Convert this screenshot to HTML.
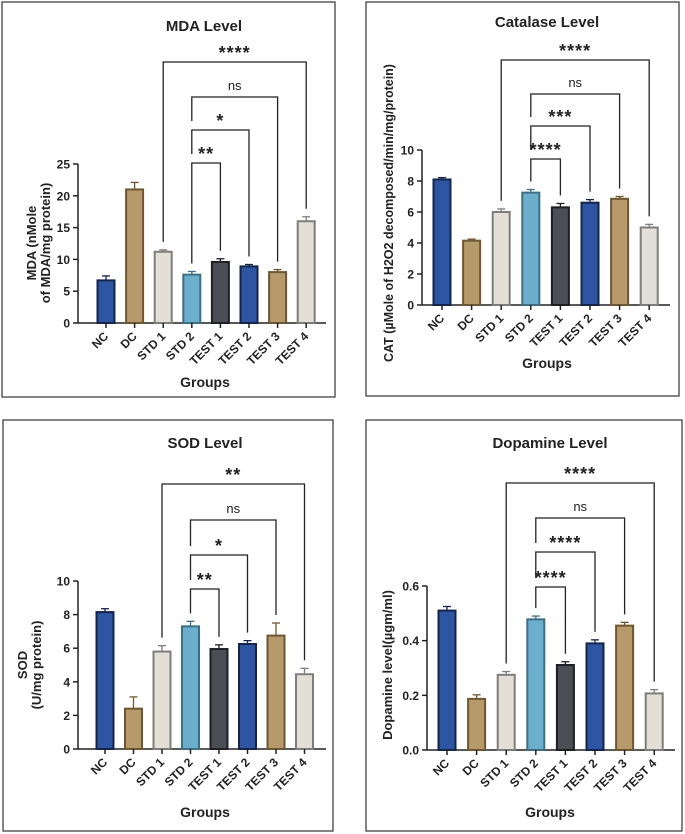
<!DOCTYPE html>
<html><head><meta charset="utf-8"><style>
html,body{margin:0;padding:0;background:#fff;}
svg{display:block;font-family:"Liberation Sans",Arial,sans-serif;}
</style></head><body>
<svg id="chart" width="685" height="834" viewBox="0 0 685 834" xmlns="http://www.w3.org/2000/svg"></svg>
<script>
const categories = ["NC","DC","STD 1","STD 2","TEST 1","TEST 2","TEST 3","TEST 4"];
const mdaValues = [6.7,21.0,11.2,7.6,9.6,8.9,8.0,16.0];
const mdaErrors = [0.7,1.1,0.3,0.5,0.5,0.3,0.4,0.7];
const mdaTicks = [0,5,10,15,20,25];
const catValues = [8.1,4.15,6.0,7.25,6.3,6.6,6.85,5.0];
const catErrors = [0.12,0.1,0.2,0.2,0.25,0.2,0.15,0.2];
const catTicks = [0,2,4,6,8,10];
const sodValues = [8.15,2.4,5.8,7.3,5.95,6.25,6.75,4.45];
const sodErrors = [0.2,0.7,0.35,0.3,0.25,0.2,0.75,0.35];
const sodTicks = [0,2,4,6,8,10];
const daValues = [0.51,0.187,0.275,0.478,0.311,0.39,0.455,0.207];
const daErrors = [0.015,0.015,0.012,0.012,0.012,0.013,0.012,0.014];
const daTicks = [0.0,0.2,0.4,0.6];
const daTickLabels = ["0.0","0.2","0.4","0.6"];
const mdaSig = ["****","ns","*","**"];
const catSig = ["****","ns","***","****"];
const sodSig = ["**","ns","*","**"];
const daSig = ["****","ns","****","****"];
// comparisons: [from, to]
const comparisons = [[2,7],[3,6],[3,5],[3,4]];

const fills = ["#2d55a2","#b69a6b","#e3dfd6","#6cafcc","#4b4e54","#2d55a2","#b69a6b","#e3dfd6"];
const strokes = ["#14244a","#6e5630","#7d7d7b","#3d6e84","#1e1f22","#14244a","#6e5630","#7d7d7b"];
const NS = "http://www.w3.org/2000/svg";
const svg = document.getElementById('chart');
function mk(tag, attrs, parent){const e=document.createElementNS(NS,tag);for(const k in attrs)e.setAttribute(k,attrs[k]);(parent||svg).appendChild(e);return e;}

function panel(cfg){
  const g = mk('g',{});
  
  
  const fr = mk('rect',{x:cfg.fx,y:cfg.fy,width:cfg.fw,height:cfg.fh,fill:'#fff',stroke:'#333','stroke-width':1.2},g);
  
  
  const t = mk('text',{x:cfg.tx,y:cfg.ty,'text-anchor':'middle','font-size':15,'font-weight':'bold',fill:'#222'},g);
  t.textContent = cfg.title;
  
  
  const ymax = cfg.ticks[cfg.ticks.length-1];
  const yS = v => cfg.y0 - (v/ymax)*(cfg.y0-cfg.yTop);
  const xS = i => cfg.x0 + i*cfg.step;
  const ya = mk('line',{x1:cfg.ax,y1:cfg.yTop,x2:cfg.ax,y2:cfg.y0,stroke:'#222','stroke-width':1.5},g);
  
  
  cfg.ticks.forEach((tv,i)=>{
    const y=yS(tv);
    mk('line',{x1:cfg.ax-5,y1:y,x2:cfg.ax,y2:y,stroke:'#222','stroke-width':1.5},g);
    const tl = mk('text',{x:cfg.ax-8,y:y+4.5,'text-anchor':'end','font-size':12,'font-weight':'bold',fill:'#222'},g);
    tl.textContent = cfg.tickLabels ? cfg.tickLabels[i] : String(tv);
    
    
  });
  const xa = mk('line',{x1:cfg.ax,y1:cfg.y0,x2:cfg.xEnd,y2:cfg.y0,stroke:'#222','stroke-width':1.5},g);
  
  
  categories.forEach((c,i)=>{
    const x=xS(i), v=cfg.values[i], e=cfg.errors[i];
    const ey=yS(v+e);
    mk('line',{x1:x,y1:yS(v),x2:x,y2:ey,stroke:strokes[i],'stroke-width':1.3},g);
    mk('line',{x1:x-4,y1:ey,x2:x+4,y2:ey,stroke:strokes[i],'stroke-width':1.3},g);
    const b = mk('rect',{x:x-8.5,y:yS(v),width:17,height:cfg.y0-yS(v),fill:fills[i],stroke:strokes[i],'stroke-width':2},g);
    
    
    mk('line',{x1:x,y1:cfg.y0,x2:x,y2:cfg.y0+5,stroke:'#222','stroke-width':1.5},g);
    const lbl = mk('text',{x:x+3,y:cfg.y0+14,'text-anchor':'end','font-size':12,'font-weight':'bold',fill:'#222',transform:`rotate(-45 ${x+3} ${cfg.y0+14})`},g);
    lbl.textContent = c;
    
    
  });
  comparisons.forEach((cp,k)=>{
    const by = cfg.by[k];
    const xa1 = xS(cp[0]), xb = xS(cp[1]);
    const rightEnd = yS(cfg.values[cp[1]]+cfg.errors[cp[1]]) - 8;
    let leftEnd = yS(cfg.values[cp[0]]+cfg.errors[cp[0]]) - 8;
    if (k>=1 && k<comparisons.length-1) leftEnd = cfg.by[k+1]-9;
    const p = mk('path',{d:`M${xa1},${leftEnd} V${by} H${xb} V${rightEnd}`,fill:'none',stroke:'#222','stroke-width':1.3},g);
    
    
    const s = cfg.sig[k];
    const st = mk('text',{x:(xa1+xb)/2,y:s==='ns'?by-7:by-3,'text-anchor':'middle','font-size':s==='ns'?13:18,'font-weight':s==='ns'?'normal':'bold',fill:'#222','letter-spacing':s==='ns'?0:1},g);
    st.textContent = s;
    
    
  });
  cfg.ylab.forEach((line,i)=>{
    const x=cfg.ylx[i];
    const yt = mk('text',{x:x,y:cfg.yly,'text-anchor':'middle','font-size':cfg.ylfs||13,'font-weight':'bold',fill:'#222',transform:`rotate(-90 ${x} ${cfg.yly})`},g);
    yt.textContent=line;
    
    
  });
  const xt = mk('text',{x:cfg.gx,y:cfg.gy,'text-anchor':'middle','font-size':14,'font-weight':'bold',fill:'#222'},g);
  xt.textContent='Groups';
  
  
}

panel({name:'mda-chart',title:'MDA Level',values:mdaValues,errors:mdaErrors,ticks:mdaTicks,sig:mdaSig,
  fx:2,fy:2,fw:333,fh:395,tx:204,ty:31,ax:78,y0:323,yTop:164,x0:106,step:28.6,xEnd:326,
  by:[62,97,130,163],ylab:['MDA (nMole','of MDA/mg protein)'],ylx:[36,50],yly:243,gx:205,gy:387});
panel({name:'catalase-chart',title:'Catalase Level',values:catValues,errors:catErrors,ticks:catTicks,sig:catSig,
  fx:366,fy:2,fw:313,fh:394,tx:547,ty:27,ax:422,y0:305,yTop:150,x0:442,step:29.6,xEnd:670,
  by:[60,94,126,159],ylab:['CAT (µMole of H2O2 decomposed/min/mg/protein)'],ylx:[393],yly:213,ylfs:12.5,gx:547,gy:368});
panel({name:'sod-chart',title:'SOD Level',values:sodValues,errors:sodErrors,ticks:sodTicks,sig:sodSig,
  fx:3,fy:420,fw:330,fh:411,tx:205,ty:448,ax:78,y0:749,yTop:581,x0:105,step:28.5,xEnd:326,
  by:[484,520,555,589],ylab:['SOD','(U/mg protein)'],ylx:[27,41],yly:665,gx:205,gy:817});
panel({name:'dopamine-chart',title:'Dopamine Level',values:daValues,errors:daErrors,ticks:daTicks,tickLabels:daTickLabels,sig:daSig,
  fx:366,fy:420,fw:316,fh:411,tx:550,ty:448,ax:427,y0:750,yTop:586,x0:447,step:29.6,xEnd:675,
  by:[483,518,552,587],ylab:['Dopamine level(µgm/ml)'],ylx:[392],yly:665,gx:550,gy:817});
</script>
</body></html>
